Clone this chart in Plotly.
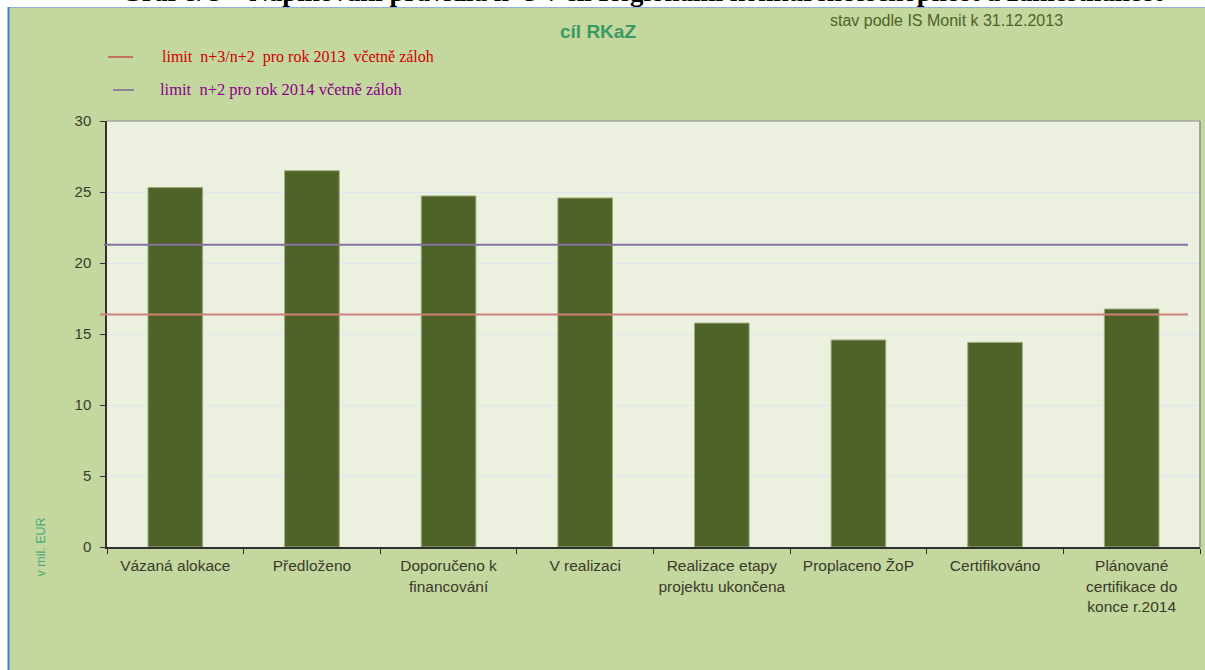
import plotly.graph_objects as go

categories = [
    "Vázaná alokace",
    "Předloženo",
    "Doporučeno k<br>financování",
    "V realizaci",
    "Realizace etapy<br>projektu ukončena",
    "Proplaceno ŽoP",
    "Certifikováno",
    "Plánované<br>certifikace do<br>konce r.2014",
]
values = [25.32, 26.50, 24.72, 24.58, 15.77, 14.58, 14.41, 16.76]

limit_names = ["limit  n+3/n+2  pro rok 2013  včetně záloh", "limit  n+2 pro rok 2014 včetně záloh"]
limit_values = [16.38, 21.29]
limit_line_colors = ["#CF7F7A", "#8570A0"]
legend_line_colors = ["#C0504D", "#8064A2"]
limit_text_colors = ["#D00000", "#8B008B"]

y_ticks = [0, 5, 10, 15, 20, 25, 30]

W, H = 1205, 670
L, R, T, B = 107, 5, 121, 123
PW, PH = W - L - R, H - T - B


def px_x(px):
    return (px - L) / PW


def px_y(py):
    return (H - B - py) / PH


fig = go.Figure()
fig.add_trace(go.Bar(
    x=categories, y=values, width=0.4,
    marker=dict(color="#4F6228", line=dict(color="#9DAE7E", width=1)),
    showlegend=False, hoverinfo="y",
))

shapes = []
# white page strips (top and left) with blue border
shapes.append(dict(type="rect", xref="paper", yref="paper", x0=px_x(-5), x1=px_x(1215),
                   y0=px_y(7.5), y1=px_y(-5), fillcolor="white", line=dict(width=0), layer="below"))
shapes.append(dict(type="rect", xref="paper", yref="paper", x0=px_x(-5), x1=px_x(8),
                   y0=px_y(680), y1=px_y(-5), fillcolor="white", line=dict(width=0), layer="below"))
shapes.append(dict(type="line", xref="paper", yref="paper", x0=px_x(8), x1=px_x(1215),
                   y0=px_y(7.5), y1=px_y(7.5), line=dict(color="#8FB0D8", width=1)))
shapes.append(dict(type="line", xref="paper", yref="paper", x0=px_x(8.5), x1=px_x(8.5),
                   y0=px_y(7), y1=px_y(680), line=dict(color="#3A7FD5", width=2)))
# plot area top/right border
shapes.append(dict(type="line", xref="paper", yref="paper", x0=0, x1=1, y0=1, y1=1,
                   line=dict(color="#8C8C8C", width=1)))
shapes.append(dict(type="line", xref="paper", yref="paper", x0=1, x1=1, y0=0, y1=1,
                   line=dict(color="#8C8C8C", width=1.5)))

# limit lines in the plot
starts = [px_x(100), px_x(104)]
for v, c, s in zip(limit_values, limit_line_colors, starts):
    shapes.append(dict(type="line", xref="paper", yref="y", x0=s, x1=px_x(1188),
                       y0=v, y1=v, line=dict(color=c, width=2)))

# legend samples
legend_y = [57, 90]
legend_x = [(108, 133), (113, 134)]
for (a, b), ly, c in zip(legend_x, legend_y, legend_line_colors):
    shapes.append(dict(type="line", xref="paper", yref="paper", x0=px_x(a), x1=px_x(b),
                       y0=px_y(ly), y1=px_y(ly), line=dict(color=c, width=1.5)))

annotations = []
text_x = [160, 158]
text_sizes = [16, 16.5]
for name, tc, tx, ly, ts in zip(limit_names, limit_text_colors, text_x, legend_y, text_sizes):
    annotations.append(dict(text=name, xref="paper", yref="paper", x=px_x(tx), y=px_y(ly),
                            xanchor="left", yanchor="middle", showarrow=False,
                            font=dict(family="Liberation Serif, Times New Roman", size=ts, color=tc)))

annotations.append(dict(text="<b>cíl RKaZ</b>", xref="paper", yref="paper", x=px_x(598), y=px_y(31),
                        xanchor="center", yanchor="middle", showarrow=False,
                        font=dict(family="Arial", size=19, color="#3A9A62")))
annotations.append(dict(text="stav podle IS Monit k 31.12.2013", xref="paper", yref="paper",
                        x=px_x(946), y=px_y(21), xanchor="center", yanchor="middle", showarrow=False,
                        font=dict(family="Arial", size=16, color="#4F6228")))
annotations.append(dict(text="v mil. EUR", xref="paper", yref="paper", x=px_x(40), y=px_y(579),
                        xanchor="center", yanchor="bottom", textangle=-90, showarrow=False,
                        font=dict(family="Arial", size=12.5, color="#4BAA7A")))
annotations.append(dict(
    text="<b>Graf č. 3 – Naplňování pravidla n+3 v cíl Regionální konkurenceschopnost a zaměstnanost</b>",
    xref="paper", yref="paper", x=px_x(642), y=px_y(9.5), xanchor="center", yanchor="bottom",
    showarrow=False, font=dict(family="Liberation Serif, Times New Roman", size=27, color="black")))

fig.update_layout(
    width=W, height=H,
    margin=dict(l=L, r=R, t=T, b=B, pad=0),
    paper_bgcolor="#C4D79E",
    plot_bgcolor="#EBF0DF",
    shapes=shapes,
    annotations=annotations,
    bargap=0.6,
    font=dict(family="Arial", size=14, color="#3A3A2A"),
)
fig.update_xaxes(
    type="category", showline=True, linecolor="#303030", linewidth=1.5,
    ticks="outside", tickson="boundaries", ticklen=5, tickcolor="#303030",
    ticklabelstandoff=4,
    showgrid=False, tickfont=dict(family="Arial", size=15.5, color="#3A3A2A"),
)
fig.update_yaxes(
    range=[0, 30], tickvals=y_ticks, showline=True, linecolor="#303030", linewidth=1.5,
    ticks="outside", ticklen=5, tickcolor="#303030", ticklabelstandoff=6,
    gridcolor="#DCE6F2", gridwidth=1, zeroline=False,
    tickfont=dict(family="Arial", size=15, color="#3A3A2A"),
)
fig.write_html(
    "out.html",
    config={"displayModeBar": False},
    post_script="document.body.style.margin='0';document.body.style.padding='0';",
)
